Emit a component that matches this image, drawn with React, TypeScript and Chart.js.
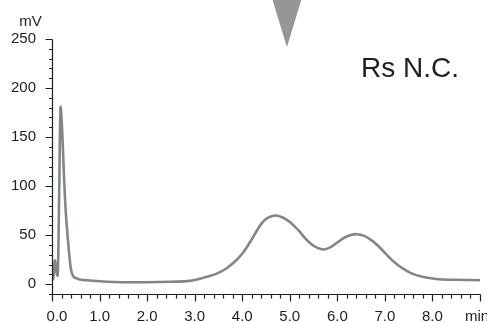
import { useEffect, useRef } from "react";
import { Chart, registerables } from "chart.js";

Chart.register(...registerables);

// Chromatogram trace: retention time (min) vs detector signal (mV)
const retentionTimes = [
  0.0, 0.03, 0.06, 0.09, 0.12, 0.15, 0.18, 0.21, 0.24, 0.27, 0.3, 0.345, 0.38, 0.41, 0.45,
  0.49, 0.6, 0.75, 1.0, 1.3, 1.65, 2.0, 2.5, 2.9, 3.13, 3.3, 3.45, 3.65, 3.84, 4.0, 4.1,
  4.19, 4.3, 4.4, 4.5, 4.6, 4.72, 4.85, 5.0, 5.1, 5.2, 5.32, 5.45, 5.58, 5.71, 5.85, 6.0,
  6.15, 6.3, 6.41, 6.55, 6.7, 6.85, 7.0, 7.15, 7.3, 7.45, 7.6, 7.79, 8.0, 8.14, 8.5, 9.0,
];
const signalMv = [
  4, 6, 24, 14, 9, 90, 180, 160, 125, 91, 66, 40, 22, 12.5, 8,
  6.4, 4.5, 4, 3, 2.3, 2, 2, 2.5, 3.4, 5.8, 8, 10.5, 15.5, 22.8, 31, 38,
  45, 54, 61.5, 66.5, 69, 70, 68, 63.5, 59, 54, 47, 41, 37, 35.4, 37.5, 42.5,
  47.5, 50.5, 51, 49.5, 45.5, 39.5, 32, 24.5, 18.5, 13.8, 10.3, 7.5, 5.8, 5.1, 4.5, 4,
];

const xMajorTicks = [0, 1, 2, 3, 4, 5, 6, 7, 8, 9];
const xTickLabels = ["0.0", "1.0", "2.0", "3.0", "4.0", "5.0", "6.0", "7.0", "8.0", "min"];
const yMajorTicks = [0, 50, 100, 150, 200, 250];
const yTickLabels = ["0", "50", "100", "150", "200", "250"];
const xMinorStep = 0.2;
const yMinorStep = 10;
const yUnitLabel = "mV";
const markerTime = 4.94;
const peakLabel = "Rs N.C.";

const FONT = "'Liberation Sans', Arial, Helvetica, sans-serif";
const INK = "#1e1e1e";

const axesPlugin = {
  id: "chromAxes",
  afterDraw(chart: any) {
    const ctx = chart.ctx as CanvasRenderingContext2D;
    const xs = chart.scales.x;
    const ys = chart.scales.y;
    const left = Math.round(xs.getPixelForValue(xs.min)) + 0.5;
    const bottom = Math.round(ys.getPixelForValue(ys.min)) + 0.5;
    const top = ys.getPixelForValue(ys.max);
    const right = xs.getPixelForValue(xs.max);

    ctx.save();
    ctx.strokeStyle = INK;
    ctx.lineWidth = 1.2;

    // axis lines
    ctx.beginPath();
    ctx.moveTo(left, Math.round(top) + 0.5);
    ctx.lineTo(left, bottom);
    ctx.lineTo(Math.round(right) + 0.5, bottom);
    ctx.stroke();

    // y ticks
    ctx.beginPath();
    for (let v = ys.min; v <= ys.max + 1e-6; v += yMinorStep) {
      const y = Math.round(ys.getPixelForValue(v)) + 0.5;
      const major = Math.abs(v % 50) < 1e-6;
      ctx.moveTo(left - (major ? 7 : 3.5), y);
      ctx.lineTo(left, y);
    }
    // x ticks
    for (let v = xs.min; v <= xs.max + 1e-6; v += xMinorStep) {
      const x = Math.round(xs.getPixelForValue(v)) + 0.5;
      const major = Math.abs(v - Math.round(v)) < 1e-6;
      ctx.moveTo(x, bottom);
      ctx.lineTo(x, bottom + (major ? 7 : 4));
    }
    ctx.stroke();

    ctx.fillStyle = INK;
    ctx.font = `15px ${FONT}`;
    ctx.textBaseline = "middle";

    ctx.textAlign = "right";
    yMajorTicks.forEach((v, i) => {
      ctx.fillText(yTickLabels[i], 36, ys.getPixelForValue(v));
    });

    ctx.textAlign = "center";
    xMajorTicks.forEach((v, i) => {
      let x = xs.getPixelForValue(v);
      if (i === 0) x += 5;
      if (i === xMajorTicks.length - 1) {
        ctx.textAlign = "left";
        x -= 15;
      }
      ctx.fillText(xTickLabels[i], x, 317);
    });

    ctx.textAlign = "center";
    ctx.fillText(yUnitLabel, 30.5, 22);

    // peak annotation
    ctx.font = `28px ${FONT}`;
    ctx.textAlign = "left";
    ctx.textBaseline = "alphabetic";
    ctx.fillText(peakLabel, 361, 77);

    // retention marker
    const mx = xs.getPixelForValue(markerTime);
    ctx.fillStyle = "#969696";
    ctx.beginPath();
    ctx.moveTo(mx - 15, -2);
    ctx.lineTo(mx + 15, -2);
    ctx.lineTo(mx, 47);
    ctx.closePath();
    ctx.fill();

    ctx.restore();
  },
};

export default function App() {
  const canvasRef = useRef<HTMLCanvasElement>(null);

  useEffect(() => {
    if (!canvasRef.current) return;
    const chart = new Chart(canvasRef.current, {
      type: "line",
      data: {
        datasets: [
          {
            data: retentionTimes.map((t, i) => ({ x: t, y: signalMv[i] })),
            borderColor: "#80868a",
            borderWidth: 2.6,
            pointRadius: 0,
            tension: 0.35,
            fill: false,
          },
        ],
      },
      options: {
        animation: false,
        responsive: false,
        devicePixelRatio: 1,
        layout: { padding: { left: 52, right: 7, top: 39, bottom: 28 } },
        plugins: { legend: { display: false }, tooltip: { enabled: false } },
        events: [],
        scales: {
          x: { type: "linear", min: 0, max: 9, display: false },
          y: { type: "linear", min: -10, max: 250, display: false },
        },
      },
      plugins: [axesPlugin],
    });
    return () => chart.destroy();
  }, []);

  return (
    <div style={{ position: "absolute", left: 0, top: 0, width: 487, height: 322, background: "#fff" }}>
      <canvas ref={canvasRef} width={487} height={322} />
    </div>
  );
}
